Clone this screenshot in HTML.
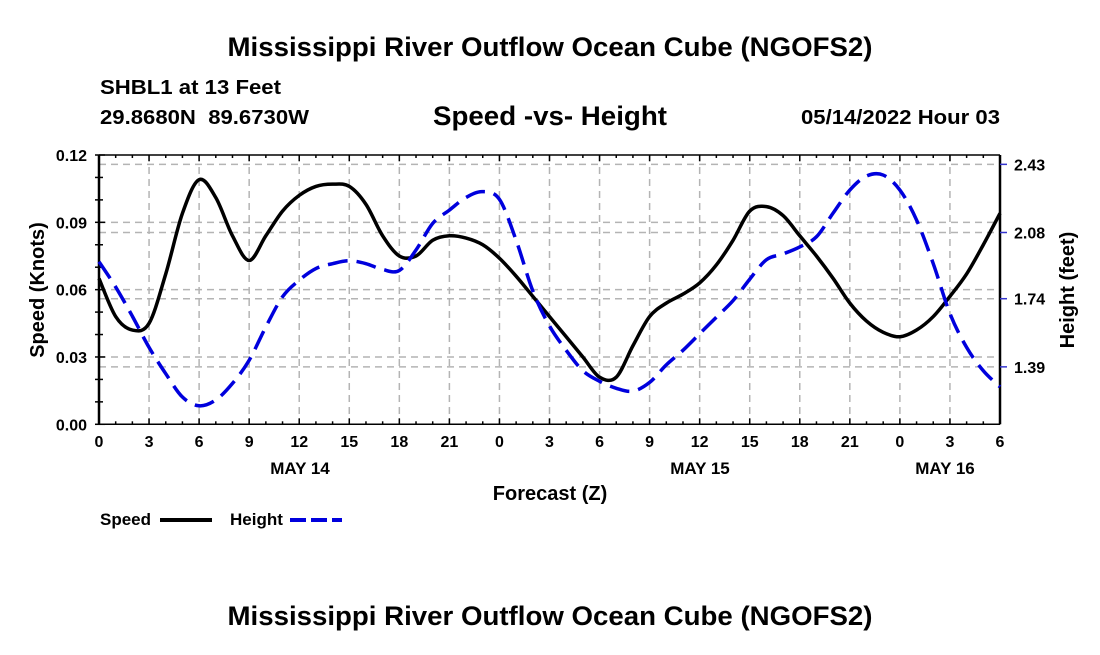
<!DOCTYPE html>
<html><head><meta charset="utf-8">
<style>
body{margin:0;background:#fff;}
svg text{font-family:"Liberation Sans",Arial,sans-serif;font-weight:bold;fill:#000;}
</style></head>
<body>
<svg id="chart" width="1100" height="650" viewBox="0 0 1100 650" xmlns="http://www.w3.org/2000/svg">
<rect width="1100" height="650" fill="#fff"/>
<text x="550" y="56" font-size="27" text-anchor="middle" textLength="645" lengthAdjust="spacingAndGlyphs">Mississippi River Outflow Ocean Cube (NGOFS2)</text>
<text x="100" y="94" font-size="20" textLength="181" lengthAdjust="spacingAndGlyphs">SHBL1 at 13 Feet</text>
<text x="100" y="124" font-size="20" textLength="209" lengthAdjust="spacingAndGlyphs" xml:space="preserve">29.8680N  89.6730W</text>
<text x="550" y="125" font-size="27" text-anchor="middle" textLength="234" lengthAdjust="spacingAndGlyphs">Speed -vs- Height</text>
<text x="801" y="124" font-size="20" textLength="199" lengthAdjust="spacingAndGlyphs">05/14/2022 Hour 03</text>
<g id="grid"></g>
<g id="axes"></g>
<g id="series"></g>
<text transform="translate(44,290) rotate(-90)" font-size="20" text-anchor="middle">Speed (Knots)</text>
<text transform="translate(1074,290) rotate(-90)" font-size="20" text-anchor="middle">Height (feet)</text>
<text x="300" y="474" font-size="17" text-anchor="middle">MAY 14</text>
<text x="700" y="474" font-size="17" text-anchor="middle">MAY 15</text>
<text x="945" y="474" font-size="17" text-anchor="middle">MAY 16</text>
<text x="550" y="500" font-size="20" text-anchor="middle">Forecast (Z)</text>
<g>
<text x="100" y="525" font-size="17">Speed</text>
<line x1="160" y1="520" x2="212" y2="520" stroke="#000" stroke-width="4"/>
<text x="230" y="525" font-size="17">Height</text>
<line x1="290" y1="520" x2="342" y2="520" stroke="#0000dd" stroke-width="4" stroke-dasharray="16,5"/>
</g>
<text x="550" y="625" font-size="27" text-anchor="middle" textLength="645" lengthAdjust="spacingAndGlyphs">Mississippi River Outflow Ocean Cube (NGOFS2)</text>
</svg>
<script>
const hours=[0,1,2,3,4,5,6,7,8,9,10,11,12,13,14,15,16,17,18,19,20,21,22,23,24,25,26,27,28,29,30,31,32,33,34,35,36,37,38,39,40,41,42,43,44,45,46,47,48,49,50,51,52,53,54];
const speed=[0.065,0.048,0.042,0.045,0.067,0.094,0.109,0.101,0.084,0.073,0.084,0.095,0.102,0.106,0.107,0.106,0.098,0.084,0.075,0.075,0.082,0.084,0.083,0.080,0.074,0.066,0.057,0.048,0.039,0.030,0.021,0.021,0.035,0.048,0.054,0.058,0.063,0.071,0.082,0.095,0.097,0.093,0.084,0.075,0.065,0.054,0.046,0.041,0.039,0.042,0.048,0.057,0.067,0.080,0.094];
const height=[1.93,1.80,1.65,1.49,1.355,1.235,1.19,1.22,1.305,1.424,1.595,1.75,1.835,1.895,1.92,1.935,1.92,1.89,1.885,1.99,2.127,2.195,2.26,2.29,2.25,2.04,1.78,1.60,1.475,1.37,1.316,1.28,1.265,1.31,1.40,1.475,1.56,1.645,1.73,1.84,1.94,1.97,2.006,2.058,2.18,2.298,2.37,2.375,2.298,2.144,1.92,1.664,1.49,1.37,1.287];
const xTickLabels=["0","3","6","9","12","15","18","21","0","3","6","9","12","15","18","21","0","3","6"];
const speedTicks=[0,0.03,0.06,0.09,0.12];
const speedTickLabels=["0.00","0.03","0.06","0.09","0.12"];
const heightTicks=[1.39,1.74,2.08,2.43];
const heightTickLabels=["1.39","1.74","2.08","2.43"];

const X0=99,X1=1000,Y0=424.3,Y1=155;
const xs=h=>X0+(h/54)*(X1-X0);
const ys=v=>Y0-(v/0.12)*(Y0-Y1);
const hMin=1.095,hMax=2.478;
const yh=v=>Y0-(v-hMin)/(hMax-hMin)*(Y0-Y1);
const NS="http://www.w3.org/2000/svg";
function mk(tag,attrs,parent){const e=document.createElementNS(NS,tag);for(const k in attrs)e.setAttribute(k,attrs[k]);parent.appendChild(e);return e;}
const grid=document.getElementById('grid'),axes=document.getElementById('axes'),series=document.getElementById('series');
const gs={stroke:"#b4b4b4","stroke-width":1.5,"stroke-dasharray":"7,5",fill:"none"};
for(let i=1;i<xTickLabels.length-1;i++){const x=xs(i*3);const l=mk('line',Object.assign({x1:x,y1:Y1,x2:x,y2:Y0},gs),grid);

}
speedTicks.slice(1,4).forEach(v=>{const l=mk('line',Object.assign({x1:X0,y1:ys(v),x2:X1,y2:ys(v)},gs),grid);

});
heightTicks.forEach(v=>{const l=mk('line',Object.assign({x1:X0,y1:yh(v),x2:X1,y2:yh(v)},gs),grid);

});
[[X0,Y1,X0,Y0,2.5],[X1,Y1,X1,Y0,2.5],[X0,Y0,X1,Y0,1.5],[X0,Y1,X1,Y1,1.5]].forEach(a=>{const l=mk('line',{x1:a[0],y1:a[1],x2:a[2],y2:a[3],stroke:"#000","stroke-width":a[4]},axes);

});
for(let h=0;h<=54;h++){const x=xs(h);const len=h%3===0?6:3;
mk('line',{x1:x,y1:Y0,x2:x,y2:Y0-len,stroke:"#000","stroke-width":1.5},axes);
mk('line',{x1:x,y1:Y1,x2:x,y2:Y1+len,stroke:"#000","stroke-width":1.5},axes);}
xTickLabels.forEach((t,i)=>{const e=mk('text',{x:xs(i*3),y:447,"font-size":16,"text-anchor":"middle"},axes);e.textContent=t;

});
for(let k=0;k<=12;k++){const y=ys(k*0.01);mk('line',{x1:X0-4,y1:y,x2:X0+(k%3===0?6:4),y2:y,stroke:"#000","stroke-width":1.5},axes);}
speedTicks.forEach((v,i)=>{const e=mk('text',{x:87,y:ys(v)+6,"font-size":16,"text-anchor":"end"},axes);e.textContent=speedTickLabels[i];

});
heightTicks.forEach((v,i)=>{mk('line',{x1:X1,y1:yh(v),x2:X1+7,y2:yh(v),stroke:"#3333cc","stroke-width":1.5},axes);
const e=mk('text',{x:1014,y:yh(v)+6,"font-size":16},axes);e.textContent=heightTickLabels[i];

});
function path(vals,yf){const p=hours.map((h,i)=>[xs(h),yf(vals[i])]);let d=`M${p[0][0]},${p[0][1]}`;
for(let i=0;i<p.length-1;i++){const p0=p[Math.max(0,i-1)],p1=p[i],p2=p[i+1],p3=p[Math.min(p.length-1,i+2)];
d+=` C${p1[0]+(p2[0]-p0[0])/6},${p1[1]+(p2[1]-p0[1])/6} ${p2[0]-(p3[0]-p1[0])/6},${p2[1]-(p3[1]-p1[1])/6} ${p2[0]},${p2[1]}`;}return d;}
const sp=mk('path',{d:path(speed,ys),stroke:"#000","stroke-width":3.5,fill:"none"},series);


const hp=mk('path',{d:path(height,yh),stroke:"#0000dd","stroke-width":3.5,fill:"none","stroke-dasharray":"20,9"},series);


</script>
</body></html>
